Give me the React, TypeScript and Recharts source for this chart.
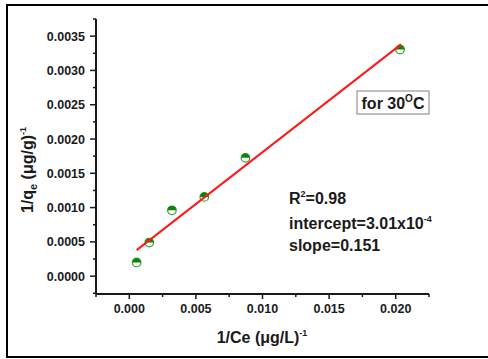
import { ScatterChart, XAxis, YAxis, Scatter } from "recharts"

document.body.style.margin = "0"

const ceInv = [0.00055, 0.0015, 0.0032, 0.00563, 0.00872, 0.02033]
const qeInv = [0.0002, 0.00049, 0.00096, 0.001156, 0.001725, 0.003305]

// fitted line end points
const fitX = [0.00055, 0.0204]
const fitY = [0.00038, 0.00338]

const xTicks = [-0.0025, 0, 0.0025, 0.005, 0.0075, 0.01, 0.0125, 0.015, 0.0175, 0.02, 0.0225]
const xMajor = [0, 0.005, 0.01, 0.015, 0.02]
const yTicks = [
  -0.00025, 0, 0.00025, 0.0005, 0.00075, 0.001, 0.00125, 0.0015, 0.00175,
  0.002, 0.00225, 0.0025, 0.00275, 0.003, 0.00325, 0.0035, 0.00375,
]
const yMajor = [0, 0.0005, 0.001, 0.0015, 0.002, 0.0025, 0.003, 0.0035]

const points = ceInv.map((x, i) => ({ x, y: qeInv[i] }))
const fit = fitX.map((x, i) => ({ x, y: fitY[i] }))

const FONT = "'Liberation Sans', Arial, sans-serif"
const INK = "#1a1a1a"

const isMajor = (v: number, list: number[]) => list.some((m) => Math.abs(m - v) < 1e-9)

function XTick({ x, y, payload }: any) {
  const major = isMajor(payload.value, xMajor)
  return (
    <g>
      <line x1={x} x2={x} y1={y} y2={y + (major ? 5 : 3)} stroke={INK} strokeWidth={1.5} />
      {major && (
        <text x={x} y={y + 19} textAnchor="middle" fontFamily={FONT} fontWeight="bold" fontSize={12.5} fill={INK}>
          {payload.value.toFixed(3)}
        </text>
      )}
    </g>
  )
}

function YTick({ x, y, payload }: any) {
  const major = isMajor(payload.value, yMajor)
  return (
    <g>
      <line x1={x} x2={x - (major ? 6 : 3)} y1={y} y2={y} stroke={INK} strokeWidth={1.5} />
      {major && (
        <text x={x - 11} y={y + 4.5} textAnchor="end" fontFamily={FONT} fontWeight="bold" fontSize={12.5} fill={INK}>
          {payload.value.toFixed(4)}
        </text>
      )}
    </g>
  )
}

function HalfDot({ cx, cy }: any) {
  const r = 4.3
  return (
    <g>
      <circle cx={cx} cy={cy} r={r} fill="#fff" stroke="#3d9e3d" strokeWidth={1.2} />
      <path d={`M ${cx - r} ${cy} A ${r} ${r} 0 0 1 ${cx + r} ${cy} Z`} fill="#0a840a" />
    </g>
  )
}

export default function App() {
  return (
    <div style={{ position: "relative", width: 488, height: 359, overflow: "hidden", background: "#fff" }}>
      <ScatterChart width={488} height={359} margin={{ top: 19, right: 59, bottom: 0, left: 0 }}>
        <XAxis
          type="number" dataKey="x" domain={[-0.0025, 0.0225]} ticks={xTicks}
          height={65} tickSize={0} tickMargin={0} tickLine={false}
          axisLine={{ stroke: INK, strokeWidth: 2 }} tick={<XTick />} interval={0}
        />
        <YAxis
          type="number" dataKey="y" domain={[-0.00026, 0.00375]} ticks={yTicks}
          width={96} tickSize={0} tickMargin={0} tickLine={false}
          axisLine={{ stroke: INK, strokeWidth: 2 }} tick={<YTick />} interval={0}
        />
        <Scatter data={points} shape={<HalfDot />} isAnimationActive={false} />
        <Scatter
          data={fit} line={{ stroke: "#ff1a1a", strokeWidth: 2 }} shape={() => <g />}
          isAnimationActive={false}
        />
      </ScatterChart>
      <svg width={488} height={359} style={{ position: "absolute", left: 0, top: 0, pointerEvents: "none" }}>
        <rect x={7} y={5} width={500} height={352} fill="none" stroke="#000" strokeWidth={2} />
        <g fontFamily={FONT} fontWeight="bold" fill={INK} fontSize={16}>
          <text transform="translate(33,170) rotate(-90)" textAnchor="middle">
            1/q<tspan dy={4} fontSize={11}>e</tspan>
            <tspan dy={-4}> (μg/g)</tspan>
            <tspan dy={-7} fontSize={9}>-1</tspan>
          </text>
          <text x={262} y={343} textAnchor="middle">
            1/Ce (μg/L)<tspan dy={-7} fontSize={9}>-1</tspan>
          </text>
          <rect x={357} y={91} width={72} height={23} fill="#fff" stroke="#808080" strokeWidth={1} />
          <text x={393} y={109} textAnchor="middle">
            for 30<tspan dy={-7} fontSize={10}>O</tspan>
            <tspan dy={7}>C</tspan>
          </text>
          <text x={289} y={204}>
            R<tspan dy={-7} fontSize={9}>2</tspan>
            <tspan dy={7}>=0.98</tspan>
          </text>
          <text x={289} y={229}>
            intercept=3.01x10<tspan dy={-7} fontSize={9}>-4</tspan>
          </text>
          <text x={289} y={251}>slope=0.151</text>
        </g>
      </svg>
    </div>
  )
}
